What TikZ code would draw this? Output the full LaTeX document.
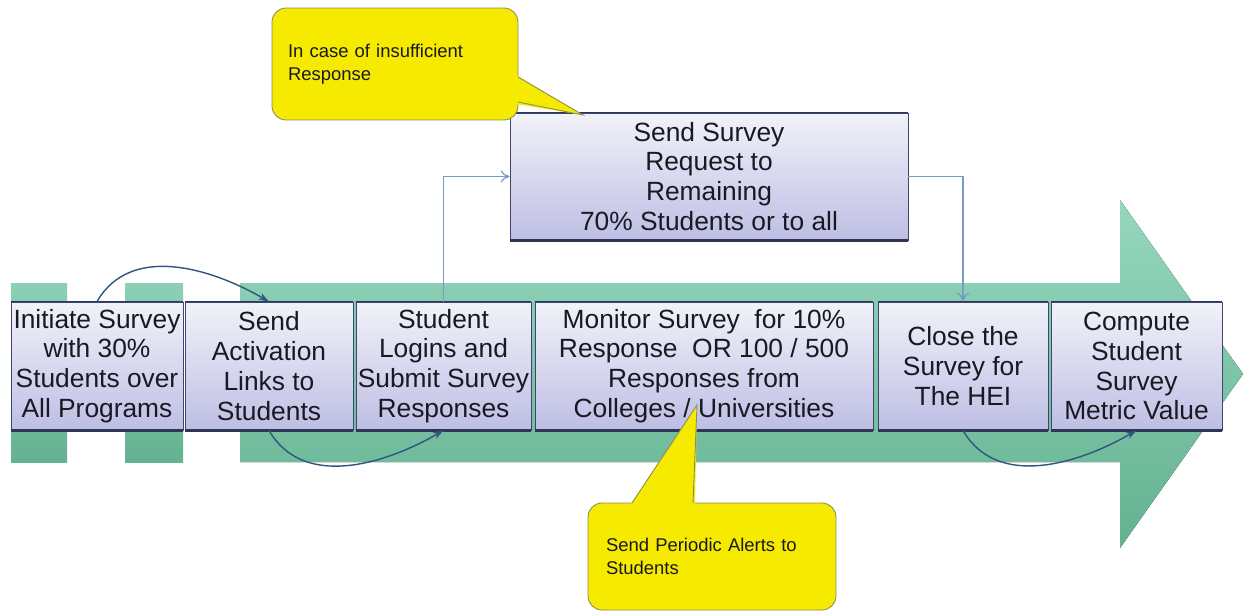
\documentclass[tikz,border=0pt]{standalone}
\usepackage{fontspec}
\setmainfont{Liberation Sans}
\usetikzlibrary{arrows.meta}
\definecolor{boxline}{RGB}{60,70,110}
\definecolor{boxdark}{RGB}{45,55,85}
\definecolor{boxtop}{RGB}{242,242,250}
\definecolor{boxbot}{RGB}{190,190,228}
\definecolor{greentop}{RGB}{150,215,190}
\definecolor{greenbot}{RGB}{100,178,145}
\definecolor{curvec}{RGB}{50,85,125}
\definecolor{elbowc}{RGB}{120,155,195}
\definecolor{yellowc}{RGB}{245,234,0}
\definecolor{callline}{RGB}{140,140,95}
\definecolor{textc}{RGB}{25,25,35}
\tikzset{
  stepbox/.style={draw=boxline, line width=0.5pt, top color=boxtop, bottom color=boxbot,
    text=textc, font=\fontsize{15}{17}\selectfont, align=center,
    minimum height=2.56cm, inner sep=1pt},
  bottomline/.style={draw=boxdark, line width=1.3pt},
  topline/.style={draw=boxdark, line width=0.8pt},
  curv/.style={draw=curvec, line width=0.8pt, -{Stealth[length=6pt,width=4pt]}},
  elbow/.style={draw=elbowc, line width=0.7pt, -{To[length=5pt,width=7pt]}},
  callout/.style={draw=callline, line width=0.5pt, fill=yellowc, rounded corners=0.28cm,
    align=left, text=textc, font=\fontsize{10.5}{13}\selectfont},
  greenfill/.style={top color=greentop, bottom color=greenbot}
}
\begin{document}
\begin{tikzpicture}[x=0.02cm,y=-0.02cm]
\useasboundingbox[fill=white] (0,0) rectangle (1246,612);
% big green arrow
\fill[greenfill] (240,283) -- (1120,283) -- (1120,200) -- (1243,374) -- (1120,548) -- (1120,462) -- (240,462) -- cycle;
\fill[top color=greentop!80!greenbot, bottom color=greenbot] (11,283) rectangle (67,462);
\fill[top color=greentop!80!greenbot, bottom color=greenbot] (125,283) rectangle (183,462);

% boxes
\node[stepbox, minimum width=3.44cm] (b1) at (97,366) {Initiate Survey\\with 30\%\\Students over\\All Programs};
\node[stepbox, minimum width=3.36cm] (b2) at (269,366) {Send\\Activation\\Links to\\Students};
\node[stepbox, minimum width=3.42cm] (b3) at (443.5,366) {Student\\Logins and\\Submit Survey\\Responses};
\node[stepbox, minimum width=6.76cm] (b4) at (704,366) {Monitor Survey\ \ for 10\%\\Response\ \ OR 100 / 500\\Responses from\\Colleges / Universities};
\node[stepbox, minimum width=3.40cm] (b5) at (963,366) {Close the\\Survey for\\The HEI};
\node[stepbox, minimum width=3.42cm] (b6) at (1136.5,366) {Compute\\Student\\Survey\\Metric Value};
\node[stepbox, minimum width=7.96cm, minimum height=2.54cm] (top) at (709,176.5) {Send Survey\\Request to\\Remaining\\70\% Students or to all};

\foreach \n in {b1,b2,b3,b4,b5,b6,top}{
  \draw[topline] (\n.north west) -- (\n.north east);
  \draw[bottomline] (\n.south west) -- (\n.south east);
}

% elbow connectors
\draw[elbow] (b3.north) |- (top.west);
\draw[elbow] (top.east) -| (b5.north);

% curved connectors
\draw[curv] (b1.north) to[out=60,in=150] (b2.north);
\draw[curv] (b2.south) to[out=-60,in=210] (b3.south);
\draw[curv] (b5.south) to[out=-60,in=210] (b6.south);

% callouts
\node[callout, minimum width=4.92cm, minimum height=2.24cm, text width=4.28cm, inner xsep=0.32cm] (c1) at (395,64) {In case of insufficient\\Response};
\fill[yellowc] (516,75) -- (583,115) -- (516,104) -- cycle;
\draw[callline, line width=0.5pt] (518,77) -- (583,115) -- (518,102);

\node[callout, minimum width=4.96cm, minimum height=2.14cm, text width=4.24cm, inner xsep=0.36cm] (c2) at (712,556.5) {Send Periodic Alerts to\\Students};
\fill[yellowc] (630,505) -- (697,405) -- (695,505) -- cycle;
\draw[callline, line width=0.5pt] (632,503) -- (697,405) -- (693,503);
\end{tikzpicture}
\end{document}
